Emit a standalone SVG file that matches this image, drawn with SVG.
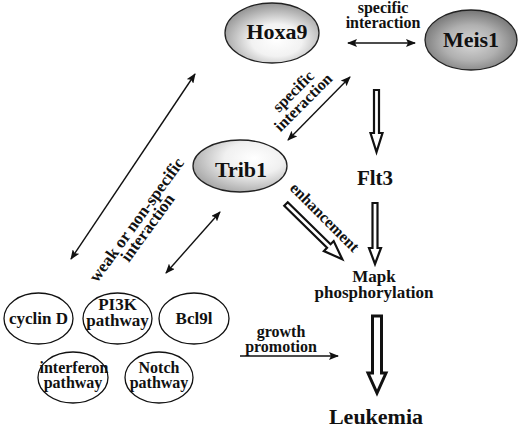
<svg xmlns="http://www.w3.org/2000/svg" width="520" height="431" viewBox="0 0 520 431" font-family="'Liberation Serif', 'DejaVu Serif', serif" font-weight="bold">
<defs>
<style>
text{font-family:'Liberation Serif','DejaVu Serif',serif;font-weight:700;fill:#111}
.big{font-size:22px}
.lbl{font-size:16px}
.sm{font-size:16px}
.thin{stroke:#111;stroke-width:1.4;fill:none}
.hollow{fill:#fff;stroke:#111;stroke-width:2.2;stroke-linejoin:miter}
.bub{fill:#fff;stroke:#111;stroke-width:1.3}
.gnode{stroke:#222;stroke-width:1.3}
</style>
<marker id="ah" viewBox="0 0 10 8" refX="9" refY="4" markerWidth="10" markerHeight="8" markerUnits="userSpaceOnUse" orient="auto-start-reverse">
<path d="M0,0 L10,4 L0,8 L2,4 z" fill="#111"/>
</marker>
<radialGradient id="gHox" cx="0.55" cy="0.62" r="0.6">
<stop offset="0" stop-color="#ffffff"/>
<stop offset="0.45" stop-color="#f2f2f2"/>
<stop offset="1" stop-color="#9a9a9a"/>
</radialGradient>
<radialGradient id="gMeis" cx="0.5" cy="0.55" r="0.6">
<stop offset="0" stop-color="#d8d8d8"/>
<stop offset="0.5" stop-color="#b0b0b0"/>
<stop offset="1" stop-color="#6a6a6a"/>
</radialGradient>
<radialGradient id="gTrib" cx="0.65" cy="0.35" r="0.7">
<stop offset="0" stop-color="#ffffff"/>
<stop offset="0.45" stop-color="#f0f0f0"/>
<stop offset="1" stop-color="#a8a8a8"/>
</radialGradient>
</defs>

<g id="connectors">
<line class="thin" x1="348" y1="43" x2="415" y2="43" marker-start="url(#ah)" marker-end="url(#ah)"/>
<line class="thin" x1="350" y1="77" x2="288" y2="140" marker-start="url(#ah)" marker-end="url(#ah)"/>
<line class="thin" x1="195" y1="74" x2="71" y2="259" marker-start="url(#ah)" marker-end="url(#ah)"/>
<line class="thin" x1="220" y1="212" x2="166" y2="273" marker-start="url(#ah)" marker-end="url(#ah)"/>
<line class="thin" x1="240" y1="356" x2="338" y2="356" marker-end="url(#ah)"/>
<polygon class="hollow" points="374,90 379,90 379,133 382.5,133 376.5,152 370.5,133 374,133"/>
<polygon class="hollow" points="372.5,203 377.5,203 377.5,248 381,248 375,264 369,248 372.5,248"/>
<polygon class="hollow" points="372.5,316 381.5,316 381.5,373 386,373 377,393 368,373 372.5,373" style="stroke-width:3"/>
<g transform="translate(286,204) rotate(44.5)">
<polygon class="hollow" points="0,-2.5 60,-2.5 60,-7 79,0 60,7 60,2.5 0,2.5"/>
</g>
<text class="lbl" x="383" y="13" text-anchor="middle">specific</text>
<text class="lbl" x="383" y="28" text-anchor="middle">interaction</text>
<text class="lbl" text-anchor="middle" transform="translate(297,95) rotate(-45)">specific</text>
<text class="lbl" text-anchor="middle" transform="translate(307,106) rotate(-45)">interaction</text>
<text class="lbl" text-anchor="middle" transform="translate(141,223) rotate(-54)" style="font-size:17px">weak or non-specific</text>
<text class="lbl" text-anchor="middle" transform="translate(152,231) rotate(-54)" style="font-size:17px">interaction</text>
<text class="lbl" text-anchor="middle" transform="translate(321,221) rotate(45)">enhancement</text>
<text class="lbl" x="281" y="337" text-anchor="middle">growth</text>
<text class="lbl" x="281" y="352" text-anchor="middle">promotion</text>
</g>

<g id="hoxa9">
<ellipse class="gnode" cx="272" cy="33" rx="47" ry="30" fill="url(#gHox)"/>
<text class="big" x="277" y="39" text-anchor="middle">Hoxa9</text>
</g>
<g id="meis1">
<ellipse class="gnode" cx="471" cy="40" rx="46" ry="30" fill="url(#gMeis)"/>
<text class="big" x="471" y="47" text-anchor="middle">Meis1</text>
</g>
<g id="trib1">
<ellipse class="gnode" cx="240" cy="166" rx="47" ry="26" fill="url(#gTrib)"/>
<text class="big" x="241" y="177" text-anchor="middle">Trib1</text>
</g>
<g id="flt3">
<text class="big" x="375" y="185" text-anchor="middle" style="font-size:21px">Flt3</text>
</g>
<g id="mapk">
<text class="lbl" x="374" y="282" text-anchor="middle" style="font-size:17px">Mapk</text>
<text class="lbl" x="374" y="298" text-anchor="middle" style="font-size:17px">phosphorylation</text>
</g>
<g id="leukemia">
<text class="big" x="376" y="424" text-anchor="middle">Leukemia</text>
</g>
<g id="cyclinD">
<ellipse class="bub" cx="38.5" cy="318.5" rx="34.5" ry="25.5"/>
<text class="sm" x="38.5" y="324" text-anchor="middle" style="font-size:17px">cyclin D</text>
</g>
<g id="pi3k">
<ellipse class="bub" cx="117.5" cy="318.5" rx="34.5" ry="25.5"/>
<text class="sm" x="117.5" y="310" text-anchor="middle" style="font-size:17px">PI3K</text>
<text class="sm" x="117.5" y="326" text-anchor="middle" style="font-size:17px">pathway</text>
</g>
<g id="bcl9l">
<ellipse class="bub" cx="194" cy="318.5" rx="35" ry="25.5"/>
<text class="sm" x="194" y="324" text-anchor="middle" style="font-size:17px">Bcl9l</text>
</g>
<g id="interferon">
<ellipse class="bub" cx="73" cy="377.5" rx="35" ry="25.5"/>
<text class="sm" x="74" y="373" text-anchor="middle">interferon</text>
<text class="sm" x="73" y="388" text-anchor="middle">pathway</text>
</g>
<g id="notch">
<ellipse class="bub" cx="159" cy="377.5" rx="34" ry="25.5"/>
<text class="sm" x="159" y="373" text-anchor="middle">Notch</text>
<text class="sm" x="159" y="388" text-anchor="middle">pathway</text>
</g>
</svg>
